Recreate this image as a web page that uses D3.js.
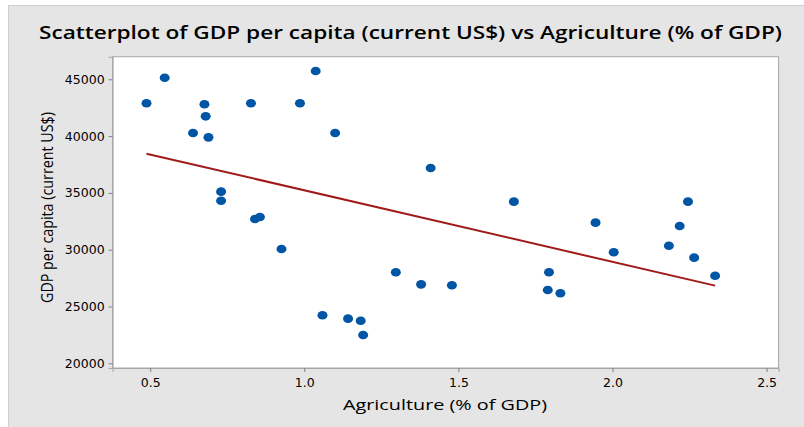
<!DOCTYPE html>
<html lang="en">
<head>
<meta charset="UTF-8">
<title>Scatterplot</title>
<script src="https://cdn.jsdelivr.net/npm/d3@7/dist/d3.min.js"></script>
<style>
    body { margin: 0; background: #fff; }
    text { font-family: "Open Sans", sans-serif; fill: #000; }
    .tick text { font-family: "DejaVu Sans", sans-serif; font-size: 12.5px; }
</style>
</head>
<body>
<div id="chart"></div>
<script>
    // Agriculture (% of GDP) vs GDP per capita
    const agriculture = [0.488, 0.547, 0.639, 0.676, 0.680, 0.689, 0.730, 0.730, 0.840, 0.856,
        0.827, 0.926, 0.986, 1.037, 1.059, 1.100, 1.142, 1.183, 1.191, 1.297,
        1.379, 1.410, 1.479, 1.680, 1.794, 1.790, 1.831, 1.945, 2.004, 2.183,
        2.218, 2.245, 2.265, 2.333];
    const gdpPerCapita = [42890, 45140, 40270, 42800, 41740, 39890, 35110, 34310, 32700, 32880,
        42890, 30060, 42890, 45730, 24230, 40270, 23930, 23750, 22490, 28010,
        26950, 37190, 26870, 34230, 28010, 26450, 26160, 32380, 29770, 30350,
        32090, 34230, 29300, 27710];
    const xTicks = [0.5, 1.0, 1.5, 2.0, 2.5];
    const yTicks = [20000, 25000, 30000, 35000, 40000, 45000];

    const points = agriculture.map((x, i) => ({ x: x, y: gdpPerCapita[i] }));

    const W = 804, H = 427;
    const margin = { top: 56.7, left: 112.6, right: 804 - 778.6, bottom: 427 - 368 };
    const w = W - margin.left - margin.right,
        h = H - margin.top - margin.bottom;

    const svg = d3.select('#chart').append('svg')
        .attr('width', W)
        .attr('height', H);

    // outer panel
    svg.append('rect')
        .attr('x', 8.5).attr('y', 5.5)
        .attr('width', W - 8).attr('height', H - 5)
        .attr('fill', '#e5e5e5')
        .attr('stroke', '#cfcfcf');

    const g = svg.append('g')
        .attr('transform', `translate(${margin.left},${margin.top})`);

    g.append('rect')
        .attr('width', w).attr('height', h)
        .attr('fill', '#fff')
        .attr('stroke', '#a6a6a6');

    const xScale = d3.scaleLinear()
        .domain([0.378, 2.539])
        .range([0, w]);

    const yScale = d3.scaleLinear()
        .domain([19586, 46989])
        .range([h, 0]);

    const xAxis = g.append('g')
        .attr('transform', `translate(0,${h})`)
        .call(d3.axisBottom(xScale).tickValues(xTicks).tickFormat(d3.format('.1f')).tickSize(4).tickPadding(6));

    const yAxis = g.append('g')
        .call(d3.axisLeft(yScale).tickValues(yTicks).tickFormat(d3.format('d')).tickSize(4).tickPadding(4));

    [xAxis, yAxis].forEach(a => {
        a.select('.domain').attr('stroke', '#a6a6a6');
        a.selectAll('.tick line').attr('stroke', '#808080');
    });

    // least squares fit line
    const mx = d3.mean(points, d => d.x), my = d3.mean(points, d => d.y);
    const slope = d3.sum(points, d => (d.x - mx) * (d.y - my)) / d3.sum(points, d => (d.x - mx) ** 2);
    const icept = my - slope * mx;
    const [x0, x1] = d3.extent(agriculture);

    g.append('line')
        .attr('x1', xScale(x0)).attr('y1', yScale(icept + slope * x0))
        .attr('x2', xScale(x1)).attr('y2', yScale(icept + slope * x1))
        .attr('stroke', '#a01a1a')
        .attr('stroke-width', 2);

    g.selectAll('ellipse')
        .data(points)
        .enter()
        .append('ellipse')
        .attr('cx', d => xScale(d.x))
        .attr('cy', d => yScale(d.y))
        .attr('rx', 5)
        .attr('ry', 4.3)
        .attr('fill', '#0055a5');

    // titles
    svg.append('text')
        .attr('x', 39).attr('y', 39)
        .attr('font-size', 18).attr('font-weight', 600)
        .attr('textLength', 743).attr('lengthAdjust', 'spacingAndGlyphs')
        .text('Scatterplot of GDP per capita (current US$) vs Agriculture (% of GDP)');

    svg.append('text')
        .attr('x', 343).attr('y', 410)
        .attr('font-size', 15).attr('font-weight', 500)
        .attr('textLength', 204).attr('lengthAdjust', 'spacingAndGlyphs')
        .text('Agriculture (% of GDP)');

    svg.append('text')
        .attr('transform', 'translate(53,303) rotate(-90)')
        .attr('font-size', 17).attr('font-weight', 500)
        .attr('textLength', 191).attr('lengthAdjust', 'spacingAndGlyphs')
        .text('GDP per capita (current US$)');
</script>
</body>
</html>
